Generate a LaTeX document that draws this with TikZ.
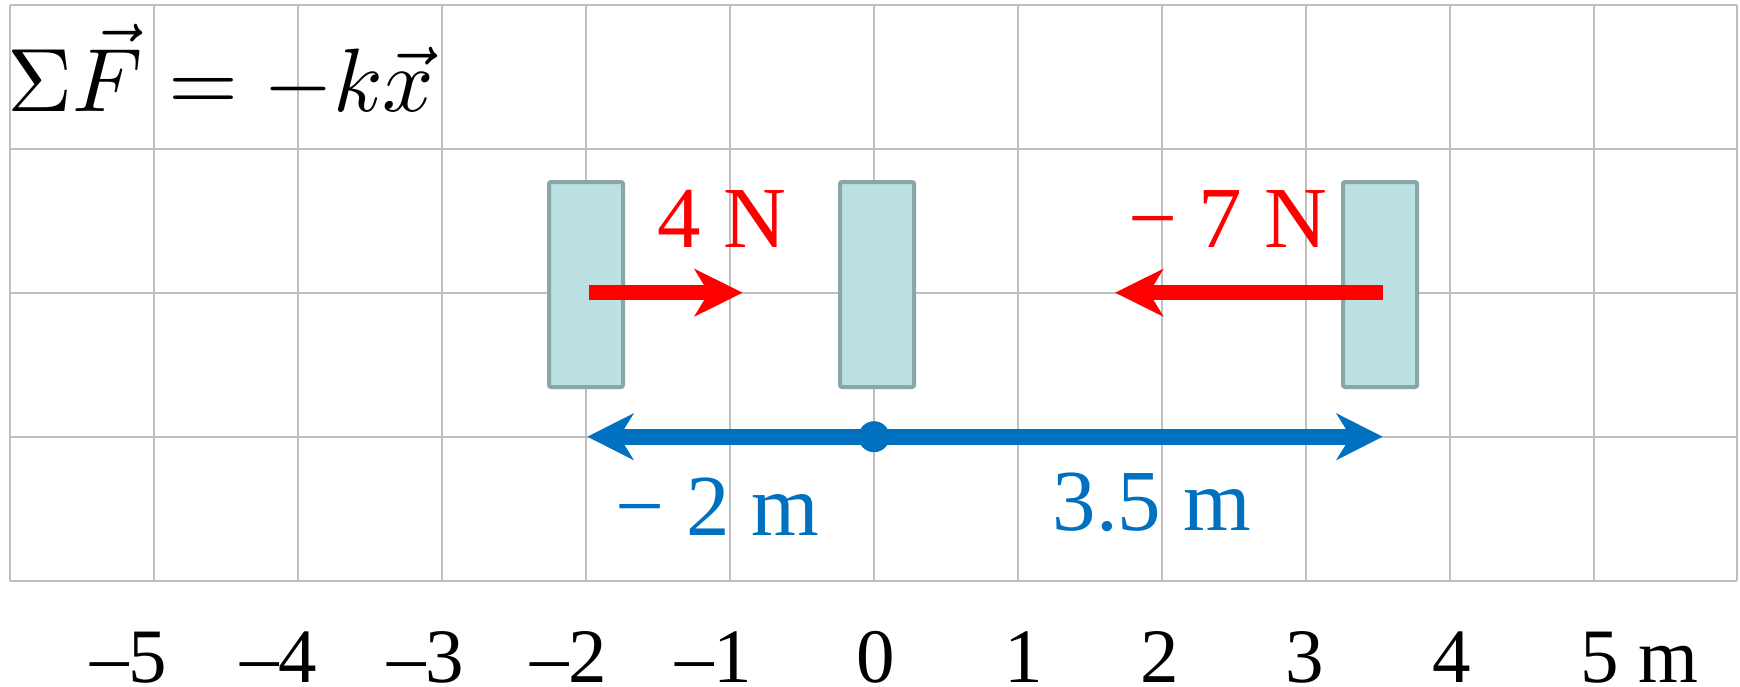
\documentclass[tikz,border=0pt]{standalone}
\usepackage[no-math]{fontspec}
\setmainfont{Liberation Serif}
\usetikzlibrary{arrows.meta}
\definecolor{gridgray}{HTML}{BFBFBF}
\definecolor{blockfill}{HTML}{BDE0E3}
\definecolor{blockedge}{HTML}{8AA6A9}
\definecolor{fred}{HTML}{FF0000}
\definecolor{dblue}{HTML}{0070C0}
\begin{document}
\begin{tikzpicture}[x=0.5pt,y=-0.5pt,
  gridline/.style={draw=gridgray,line width=0.8pt},
  mass/.style={draw=blockedge, fill=blockfill, line width=2pt, rounded corners=1pt,
    minimum width=37pt, minimum height=102.5pt, inner sep=0pt},
  force/.style={draw=fred, line width=7.5pt, -{Stealth[length=24pt,width=23.5pt,inset=7pt]}},
  disp/.style={draw=dblue, line width=8pt,
    {Stealth[length=23pt,width=23pt,inset=7pt]}-{Stealth[length=23pt,width=23pt,inset=7pt]}},
  dot/.style={circle, fill=dblue, inner sep=0pt, minimum size=15.5pt},
  biglabel/.style={inner sep=0pt, font=\fontsize{43.5}{50}\selectfont},
  ticklabel/.style={inner sep=0pt, anchor=base, font=\fontsize{38.5}{42}\selectfont}]
\useasboundingbox (0,0) rectangle (1740,686);
\fill[white] (0,0) rectangle (1740,686);
% grid
\foreach \k in {0,...,11} \draw[gridline] ({10+144*\k},4.7) -- ({10+144*\k},580.7);
\draw[gridline] (1737,4.7) -- (1737,580.7);
\foreach \y in {4.7,148.7,292.7,436.7,580.7} \draw[gridline] (10,\y) -- (1737,\y);
% formula
\node[inner sep=0pt, anchor=base west, scale=4.5] (formula) at (6,111.7)
  {$\Sigma\vec{F} = -k\vec{x}$};
% masses
\node[mass] (m1) at (586,284.5) {};
\node[mass] (m0) at (877,284.5) {};
\node[mass] (m2) at (1380,284.5) {};
% forces
\coordinate (f1s) at (589,292.7);
\coordinate (f1e) at (742.7,292.7);
\coordinate (f2s) at (1382.7,292.7);
\coordinate (f2e) at (1115,292.7);
\draw[force] (f1s) -- (f1e);
\draw[force] (f2s) -- (f2e);
\node[biglabel, text=fred, anchor=base] (l4) at (722,247) {4 N};
\node[biglabel, text=fred, anchor=base] (l7) at (1227.5,247) {− 7 N};
% displacement
\coordinate (dl) at (587.3,436.7);
\coordinate (dr) at (1382.7,436.7);
\draw[disp] (dl) -- (dr);
\node[dot] (origin) at (874,436.7) {};
\node[biglabel, text=dblue, anchor=base] (lm2) at (717.5,535) {− 2 m};
\node[biglabel, text=dblue, anchor=base] (l35) at (1151.7,530) {3.5 m};
% tick labels
\foreach \v/\x in {5/148,4/298,3/445,2/588,1/733} \node[ticklabel] (tm\v) at (\x,682) {\llap{–}\v};
\node[ticklabel] (t0) at (876,682) {0};
\foreach \v/\x in {1/1024,2/1160,3/1305,4/1452} \node[ticklabel] (tp\v) at (\x,682) {\v};
\node[ticklabel] (tp5) at (1600,682) {5\rlap{ m}};
\end{tikzpicture}
\end{document}
